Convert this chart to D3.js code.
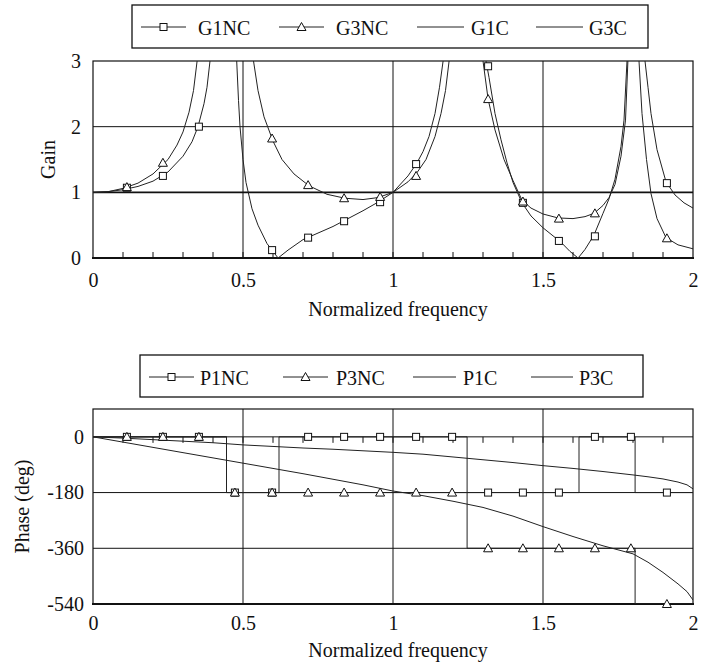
<!DOCTYPE html>
<html><head><meta charset="utf-8">
<script src="https://cdn.jsdelivr.net/npm/d3@7"></script>
<style>
body{margin:0;background:#fff;}
</style></head>
<body>
<svg id="c" width="703" height="667"></svg>
<script>
// ---------- DATA ----------
const markerFreq = [0.113,0.233,0.353,0.473,0.597,0.717,0.837,0.957,1.077,1.197,1.317,1.433,1.553,1.673,1.793,1.913];
const g1NC = [1.07,1.25,2.0,6.0,0.12,0.31,0.56,0.85,1.43,5.0,2.92,0.84,0.26,0.33,8.0,1.14];
const g3NC = [1.08,1.45,4.0,9.0,1.82,1.11,0.91,0.93,1.25,6.0,2.42,0.86,0.60,0.68,9.0,0.30];

const g1Freq = [0,0.05,0.10,0.15,0.20,0.25,0.30,0.33,0.35,0.37,0.38,0.39,0.40,0.445,0.475,0.479,0.485,0.49,0.50,0.51,0.53,0.55,0.58,0.60,0.617,0.65,0.70,0.75,0.80,0.85,0.90,0.95,1.00,1.05,1.08,1.10,1.12,1.14,1.155,1.167,1.18,1.25,1.30,1.31,1.32,1.34,1.36,1.38,1.40,1.43,1.46,1.50,1.53,1.56,1.59,1.617,1.64,1.67,1.70,1.72,1.74,1.76,1.77,1.78,1.79,1.81,1.83,1.84,1.85,1.86,1.88,1.91,1.94,1.97,2.00];
const g1C = [1.00,1.01,1.04,1.09,1.17,1.31,1.55,1.77,2.0,2.35,2.6,3.0,3.5,40,3.6,3.0,2.4,2.0,1.5,1.15,0.75,0.5,0.22,0.1,0.0,0.12,0.28,0.38,0.48,0.6,0.72,0.85,1.0,1.25,1.45,1.62,1.85,2.2,2.6,3.0,3.6,40,3.6,3.0,2.75,2.2,1.8,1.45,1.15,0.84,0.64,0.46,0.35,0.24,0.1,0.0,0.13,0.35,0.68,0.9,1.2,1.7,2.1,3.0,3.6,40,3.6,3.0,2.6,2.2,1.65,1.16,0.96,0.84,0.76];

const g3Freq = [0,0.05,0.10,0.15,0.20,0.25,0.28,0.30,0.32,0.335,0.347,0.36,0.445,0.525,0.535,0.55,0.57,0.60,0.63,0.67,0.72,0.78,0.84,0.90,0.95,1.00,1.05,1.08,1.11,1.14,1.16,1.175,1.187,1.20,1.25,1.29,1.30,1.317,1.34,1.37,1.40,1.43,1.46,1.50,1.55,1.60,1.64,1.67,1.70,1.72,1.74,1.76,1.775,1.783,1.795,1.80,1.81,1.82,1.83,1.845,1.86,1.88,1.91,1.95,2.00];
const g3C = [1.0,1.01,1.06,1.14,1.28,1.5,1.72,1.92,2.22,2.55,3.0,3.6,40,3.6,3.0,2.55,2.15,1.78,1.5,1.28,1.1,0.97,0.91,0.89,0.92,1.0,1.16,1.3,1.5,1.85,2.2,2.55,3.0,3.6,40,3.6,3.0,2.42,1.95,1.5,1.18,0.88,0.76,0.67,0.61,0.60,0.63,0.68,0.8,0.92,1.12,1.55,2.1,3.0,3.6,40,3.6,3.0,2.2,1.5,0.98,0.6,0.31,0.2,0.14];

const p1NC = [0,0,0,-180,-180,0,0,0,0,0,-180,-180,-180,0,0,-180];
const p3NC = [0,0,0,-180,-180,-180,-180,-180,-180,-180,-360,-360,-360,-360,-360,-540];
const p1StepFreq = [0,0.445,0.62,1.247,1.62,1.807,2];
const p1StepPhase = [0,-180,0,-180,0,-180,-180];
const p3StepFreq = [0,0.445,1.247,1.807,2];
const p3StepPhase = [0,-180,-360,-540,-540];

const phaseFreq = [0,0.1,0.2,0.3,0.4,0.5,0.6,0.7,0.8,0.9,1.0,1.1,1.2,1.3,1.4,1.5,1.6,1.7,1.8,1.85,1.9,1.95,1.98,2.0];
const p1C = [0,-4,-9,-14,-19,-26,-31,-36,-40,-45,-50,-56,-65,-74,-83,-93,-102,-112,-123,-129,-136,-146,-155,-168];
const p3C = [0,-17,-34,-51,-68,-85,-102,-119,-137,-155,-175,-190,-208,-228,-256,-290,-322,-352,-378,-405,-438,-475,-500,-527];

const xTicks = [0,0.5,1,1.5,2];
const gainTicks = [0,1,2,3];
const phaseTicks = [-540,-360,-180,0];
const gainLegend = ["G1NC","G3NC","G1C","G3C"];
const phaseLegend = ["P1NC","P3NC","P1C","P3C"];

// ---------- DRAW ----------
const FONT = "'Liberation Serif', 'Times New Roman', Times, serif";
const svg = d3.select("#c");
svg.append("rect").attr("width",703).attr("height",667).attr("fill","#fff");
const FS = 20;
const LC = "#222";

function square(g, cx, cy){
  g.append("rect").attr("x",cx-3.5).attr("y",cy-3.5).attr("width",7).attr("height",7)
   .attr("fill","#fff").attr("stroke","#111").attr("stroke-width",1);
}
function tri(g, cx, cy){
  g.append("path").attr("d",`M${cx},${cy-4.5}L${cx+4.5},${cy+3.5}L${cx-4.5},${cy+3.5}Z`)
   .attr("fill","#fff").attr("stroke","#111").attr("stroke-width",1);
}

function legend(labels, box, items){
  const g = svg.append("g");
  g.append("rect").attr("x",box[0]).attr("y",box[1]).attr("width",box[2]-box[0]).attr("height",box[3]-box[1])
    .attr("fill","#fff").attr("stroke","#111").attr("stroke-width",1.3);
  labels.forEach((lab,i)=>{
    const it = items[i];
    g.append("line").attr("x1",it.x0).attr("x2",it.x1).attr("y1",it.ly).attr("y2",it.ly).attr("stroke",LC).attr("stroke-width",1);
    if(i===0) square(g,(it.x0+it.x1)/2,it.ly);
    if(i===1) tri(g,(it.x0+it.x1)/2,it.ly);
    g.append("text").attr("x",it.tx).attr("y",it.ty).attr("font-size",FS).text(lab);
  });
}

function chart(opt){
  const x = d3.scaleLinear().domain([0,2]).range([93,693]);
  const y = d3.scaleLinear().domain(opt.yDomain).range([opt.bottom, opt.top]);
  const g = svg.append("g");
  const clipId = "clip"+opt.id;
  svg.append("clipPath").attr("id",clipId).append("rect")
    .attr("x",93).attr("y",opt.top).attr("width",600).attr("height",opt.bottom-opt.top);
  [0.5,1,1.5].forEach(v=>g.append("line").attr("x1",x(v)).attr("x2",x(v)).attr("y1",opt.top).attr("y2",opt.bottom).attr("stroke","#111").attr("stroke-width",1));
  opt.hGrid.forEach(v=>g.append("line").attr("x1",93).attr("x2",693).attr("y1",y(v)).attr("y2",y(v)).attr("stroke","#111").attr("stroke-width",opt.thick && opt.thick===v?1.6:1));
  const tickY = y(opt.tickAt);
  d3.range(1,20).forEach(k=>{
    const v=k/10;
    g.append("line").attr("x1",x(v)).attr("x2",x(v)).attr("y1",tickY).attr("y2",tickY+opt.tickDir*6).attr("stroke","#111").attr("stroke-width",1);
  });
  g.append("rect").attr("x",93).attr("y",opt.top).attr("width",600).attr("height",opt.bottom-opt.top)
    .attr("fill","none").attr("stroke","#111").attr("stroke-width",1.2);
  g.append("line").attr("x1",92).attr("x2",694).attr("y1",opt.bottom).attr("y2",opt.bottom).attr("stroke","#111").attr("stroke-width",2);
  const fmt = d => String(d);
  const ya = svg.append("g").attr("transform","translate(93,0)")
    .call(d3.axisLeft(y).tickValues(opt.yTicks).tickSize(0).tickPadding(opt.yPad).tickFormat(fmt));
  ya.select(".domain").remove();
  ya.attr("font-family",FONT).attr("font-size",FS);
  ya.selectAll("text").attr("fill","#111");
  const xa = svg.append("g").attr("transform",`translate(0,${opt.bottom})`)
    .call(d3.axisBottom(x).tickValues(xTicks).tickSize(0).tickPadding(opt.xPad).tickFormat(fmt));
  xa.select(".domain").remove();
  xa.attr("font-family",FONT).attr("font-size",FS);
  xa.selectAll("text").attr("fill","#111");
  svg.append("text").attr("x",398).attr("y",opt.titleY).attr("text-anchor","middle").attr("font-size",FS).text("Normalized frequency");
  svg.append("text").attr("transform",`translate(${opt.yTitleX},${(opt.top+opt.bottom)/2}) rotate(-90)`)
    .attr("text-anchor","middle").attr("font-size",FS).text(opt.yTitle);
  const plot = svg.append("g").attr("clip-path",`url(#${clipId})`);
  return {x,y,plot,g};
}

// ----- Gain chart -----
legend(gainLegend,[132,5,648,48],[
  {x0:141,x1:186,ly:27,tx:198,ty:35},
  {x0:279,x1:324,ly:27,tx:336,ty:35},
  {x0:417,x1:464,ly:27,tx:471,ty:35},
  {x0:536,x1:583,ly:27,tx:589,ty:35}]);
const A = chart({id:"a",yDomain:[0,3],top:61,bottom:258,hGrid:[1,2],thick:1,tickAt:0,tickDir:-1,
  yTicks:gainTicks,yPad:12,xPad:15,titleY:316,yTitle:"Gain",yTitleX:55});
const lineA = d3.line().x(d=>A.x(d[0])).y(d=>A.y(d[1]));
A.plot.append("path").attr("d",lineA(d3.zip(g1Freq,g1C))).attr("fill","none").attr("stroke",LC).attr("stroke-width",1);
A.plot.append("path").attr("d",lineA(d3.zip(g3Freq,g3C))).attr("fill","none").attr("stroke",LC).attr("stroke-width",1);
const mA = svg.append("g");
markerFreq.forEach((f,i)=>{
  if(g1NC[i]<=3.05) square(mA,A.x(f),A.y(g1NC[i]));
  if(g3NC[i]<=3.05) tri(mA,A.x(f),A.y(g3NC[i]));
});

// ----- Phase chart -----
legend(phaseLegend,[140,355,643,397],[
  {x0:149,x1:194,ly:377,tx:200,ty:385},
  {x0:283,x1:328,ly:377,tx:336,ty:385},
  {x0:413,x1:456,ly:377,tx:463,ty:385},
  {x0:531,x1:573,ly:377,tx:579,ty:385}]);
const B = chart({id:"b",yDomain:[-540,90],top:409,bottom:604,hGrid:[0,-180,-360],tickAt:0,tickDir:1,
  yTicks:phaseTicks,yPad:9,xPad:12,titleY:657,yTitle:"Phase (deg)",yTitleX:29});
const lineB = d3.line().x(d=>B.x(d[0])).y(d=>B.y(d[1]));
const stepB = d3.line().x(d=>B.x(d[0])).y(d=>B.y(d[1])).curve(d3.curveStepAfter);
B.plot.append("path").attr("d",stepB(d3.zip(p1StepFreq,p1StepPhase))).attr("fill","none").attr("stroke",LC).attr("stroke-width",1);
B.plot.append("path").attr("d",stepB(d3.zip(p3StepFreq,p3StepPhase))).attr("fill","none").attr("stroke",LC).attr("stroke-width",1);
B.plot.append("path").attr("d",lineB(d3.zip(phaseFreq,p1C))).attr("fill","none").attr("stroke",LC).attr("stroke-width",1);
B.plot.append("path").attr("d",lineB(d3.zip(phaseFreq,p3C))).attr("fill","none").attr("stroke",LC).attr("stroke-width",1);
const mB = svg.append("g");
markerFreq.forEach((f,i)=>{
  square(mB,B.x(f),B.y(p1NC[i]));
  tri(mB,B.x(f),B.y(p3NC[i]));
});

svg.selectAll("text").attr("font-family",FONT).style("fill","#111");
</script>
</body></html>
